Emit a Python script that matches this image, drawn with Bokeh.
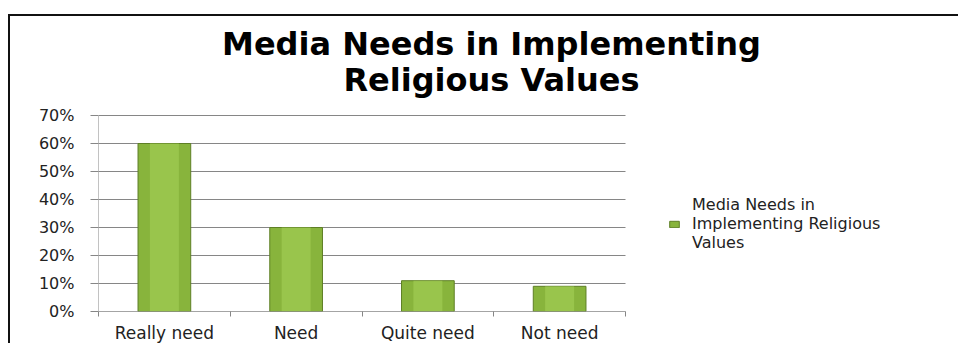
from bokeh.plotting import figure
from bokeh.models import Range1d, FixedTicker, Label, Legend, LegendItem, ColumnDataSource
from bokeh.embed import file_html
from bokeh.resources import INLINE

categories = ["Really need", "Need", "Quite need", "Not need"]
percentages = [0.60, 0.30, 0.11, 0.09]
y_ticks = [0.0, 0.1, 0.2, 0.3, 0.4, 0.5, 0.6, 0.7]
y_tick_labels = ["0%", "10%", "20%", "30%", "40%", "50%", "60%", "70%"]
series_name = "Media Needs in\nImplementing Religious\nValues"
title_lines = ["Media Needs in Implementing", "Religious Values"]

n = len(categories)
positions = [i + 0.5 for i in range(n)]
boundaries = [float(i) for i in range(n + 1)]
source = ColumnDataSource(dict(x=positions, top=percentages, cat=categories))
y_max = y_ticks[-1]

FONT = "DejaVu Sans"
GRAY = "#868686"

# frame spans the whole right/top area so that legend and title are not clipped;
# the visible plot area is x in [0, n], y in [0, y_max]
p = figure(width=950, height=329, output_backend="svg", toolbar_location=None,
           x_range=Range1d(0, n * 862 / 527), y_range=Range1d(0, y_max * 295 / 196),
           min_border_left=88, min_border_right=0, min_border_top=0, min_border_bottom=34,
           margin=(14, 0, 0, 8))
p.title.visible = False
p.styles = {"border-top": "2px solid #111", "border-left": "2px solid #111"}
p.outline_line_color = None
p.background_fill_color = "white"
p.border_fill_color = "white"
p.xgrid.visible = False
p.ygrid.visible = False

# gridlines and axis lines limited to the plot area
p.segment(x0=[0.0] * len(y_ticks), x1=[float(n)] * len(y_ticks), y0=y_ticks, y1=y_ticks,
          line_color=GRAY, line_width=1)
p.segment(x0=[0.0], x1=[0.0], y0=[0.0], y1=[y_max], line_color=GRAY, line_width=1)

bars = p.vbar(x="x", top="top", width=0.4, source=source,
              fill_color="#88b43c", line_color="#5e7f25", line_width=1)
p.vbar(x="x", top="top", width=0.22, source=source,
       fill_color="#a5d056", fill_alpha=0.6, line_color=None)

ya = p.yaxis[0]
ya.ticker = FixedTicker(ticks=y_ticks)
ya.major_label_overrides = {t: l for t, l in zip(y_ticks, y_tick_labels)}
ya.major_tick_out = 8
ya.major_tick_in = 0
ya.major_tick_line_color = GRAY
ya.minor_tick_line_color = None
ya.axis_line_color = None
ya.major_label_standoff = 16
ya.major_label_text_font = FONT
ya.major_label_text_font_size = "16px"
ya.major_label_text_color = "#222"

xa = p.xaxis[0]
xa.ticker = FixedTicker(ticks=positions, minor_ticks=boundaries)
xa.major_label_overrides = {t: l for t, l in zip(positions, categories)}
xa.major_tick_line_color = None
xa.major_tick_out = 0
xa.minor_tick_out = 5
xa.minor_tick_in = 0
xa.minor_tick_line_color = GRAY
xa.axis_line_color = None
xa.major_label_standoff = 6
xa.major_label_text_font = FONT
xa.major_label_text_font_size = "17px"
xa.major_label_text_color = "#222"
p.segment(x0=[0.0], x1=[float(n)], y0=[0.0], y1=[0.0], line_color=GRAY, line_width=1)

for line, sy in zip(title_lines, [268, 232]):
    p.add_layout(Label(x=393, y=sy, x_units="screen", y_units="screen", text=line,
                       text_align="center", text_baseline="middle",
                       text_font=FONT, text_font_style="bold", text_font_size="32px",
                       text_color="#000"))

legend = Legend(items=[LegendItem(label=series_name, renderers=[bars])],
                location=(570, 59), padding=0, margin=0, border_line_color=None,
                background_fill_alpha=0, glyph_width=12, glyph_height=8,
                label_standoff=12, label_text_font=FONT, label_text_font_size="16px",
                label_text_color="#222")
p.add_layout(legend)

open("out.html", "w").write(file_html(p, INLINE))
